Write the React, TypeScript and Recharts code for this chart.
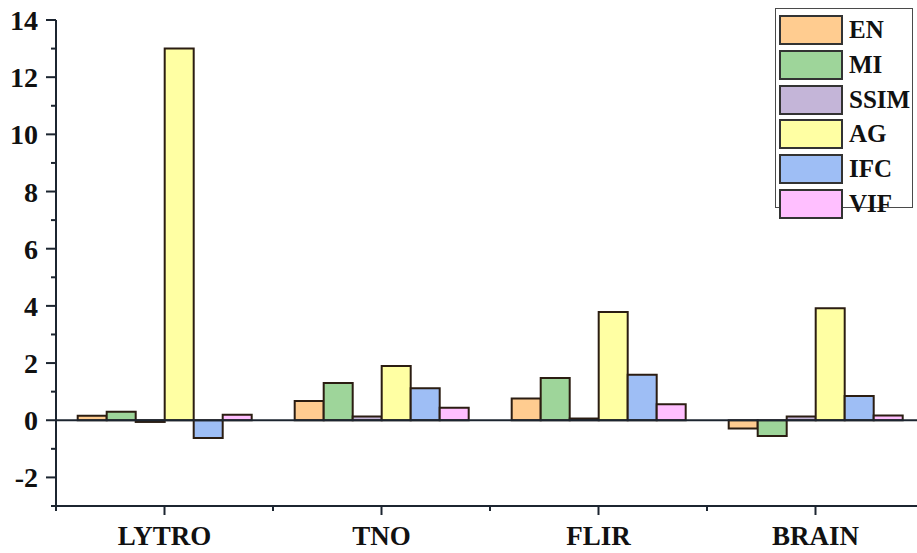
import React from 'react';
import { BarChart, Bar, XAxis, YAxis, ReferenceLine, Legend } from 'recharts';

const categories = ['LYTRO', 'TNO', 'FLIR', 'BRAIN'];
const EN = [0.16, 0.67, 0.76, -0.29];
const MI = [0.3, 1.3, 1.48, -0.55];
const SSIM = [-0.06, 0.13, 0.06, 0.13];
const AG = [13.0, 1.9, 3.79, 3.92];
const IFC = [-0.62, 1.12, 1.59, 0.85];
const VIF = [0.19, 0.44, 0.56, 0.17];
const yTicks = [-3, -2, -1, 0, 1, 2, 3, 4, 5, 6, 7, 8, 9, 10, 11, 12, 13, 14];
const seriesNames = ['EN', 'MI', 'SSIM', 'AG', 'IFC', 'VIF'];
const seriesValues = [EN, MI, SSIM, AG, IFC, VIF];
const colors = ['#FFCC90', '#9ED59A', '#C4B5D8', '#FFFFA3', '#9EBEF5', '#FFBFFF'];

const data = categories.map((c, i) => {
  const row: any = { name: c };
  seriesNames.forEach((s, k) => {
    row[s] = seriesValues[k][i];
  });
  return row;
});

const FONT = "'Liberation Serif', 'Times New Roman', serif";
const AXIS = '#1c2530';

const YTick = (props: any) => {
  const { x, y, payload } = props;
  const v = payload.value;
  const major = v % 2 === 0;
  return (
    <g>
      <line x1={x - (major ? 10 : 5)} x2={x} y1={y} y2={y} stroke={AXIS} strokeWidth={2} />
      {major && (
        <text x={x - 18} y={y} dy="0.36em" textAnchor="end" fontFamily={FONT} fontWeight="bold" fontSize={28} fill="#111">
          {v}
        </text>
      )}
    </g>
  );
};

const XTick = (props: any) => {
  const { x, y, payload, index } = props;
  const off = payload && payload.offset ? payload.offset : 108.5;
  return (
    <g>
      <line x1={x} x2={x} y1={y} y2={y + 9} stroke={AXIS} strokeWidth={2} />
      <line x1={x + off} x2={x + off} y1={y} y2={y + 5} stroke={AXIS} strokeWidth={2} />
      {index === 0 && <line x1={x - off} x2={x - off} y1={y} y2={y + 5} stroke={AXIS} strokeWidth={2} />}
      <text x={x} y={y + 39} textAnchor="middle" fontFamily={FONT} fontWeight="bold" fontSize={27} fill="#111">
        {payload.value}
      </text>
    </g>
  );
};

const LegendBox = () => (
  <div
    style={{
      width: 138,
      height: 200,
      border: '1.5px solid #4a4a4a',
      background: '#fff',
      boxSizing: 'border-box',
      paddingTop: 4,
      paddingLeft: 3,
    }}
  >
    {seriesNames.map((s, k) => (
      <div key={s} style={{ display: 'flex', alignItems: 'center', height: 34.7 }}>
        <div
          style={{
            width: 64,
            height: 30,
            background: colors[k],
            border: '2px solid #333',
            boxSizing: 'border-box',
          }}
        />
        <span
          style={{
            marginLeft: 6,
            fontFamily: FONT,
            fontWeight: 'bold',
            fontSize: 25,
            color: '#111',
            lineHeight: '30px',
          }}
        >
          {s}
        </span>
      </div>
    ))}
  </div>
);

export default function App() {
  return (
    <div style={{ position: 'absolute', left: 0, top: 0, width: 917, height: 553, overflow: 'hidden', background: '#fff' }}>
      <BarChart
        width={930}
        height={553}
        data={data}
        margin={{ top: 20, right: 6, bottom: 0, left: 0 }}
        barCategoryGap="10%"
        barGap={0}
      >
        <XAxis
          dataKey="name"
          height={47}
          tickSize={0}
          tickMargin={0}
          tickLine={false}
          axisLine={{ stroke: AXIS, strokeWidth: 2 }}
          tick={<XTick />}
          interval={0}
        />
        <YAxis
          width={56}
          domain={[-3, 14]}
          ticks={yTicks}
          type="number"
          allowDataOverflow
          tickSize={0}
          tickMargin={0}
          tickLine={false}
          axisLine={{ stroke: AXIS, strokeWidth: 2 }}
          tick={<YTick />}
          interval={0}
        />
        <Legend
          layout="horizontal"
          verticalAlign="middle"
          align="center"
          content={<LegendBox />}
          wrapperStyle={{ position: 'absolute', left: 775, top: 8, width: 138, height: 200 }}
        />
        {seriesNames.map((s, k) => (
          <Bar
            key={s}
            dataKey={s}
            fill={colors[k]}
            stroke="#2b1d12"
            strokeWidth={2}
            isAnimationActive={false}
          />
        ))}
        <ReferenceLine y={0} stroke={AXIS} strokeWidth={2} />
      </BarChart>
    </div>
  );
}
